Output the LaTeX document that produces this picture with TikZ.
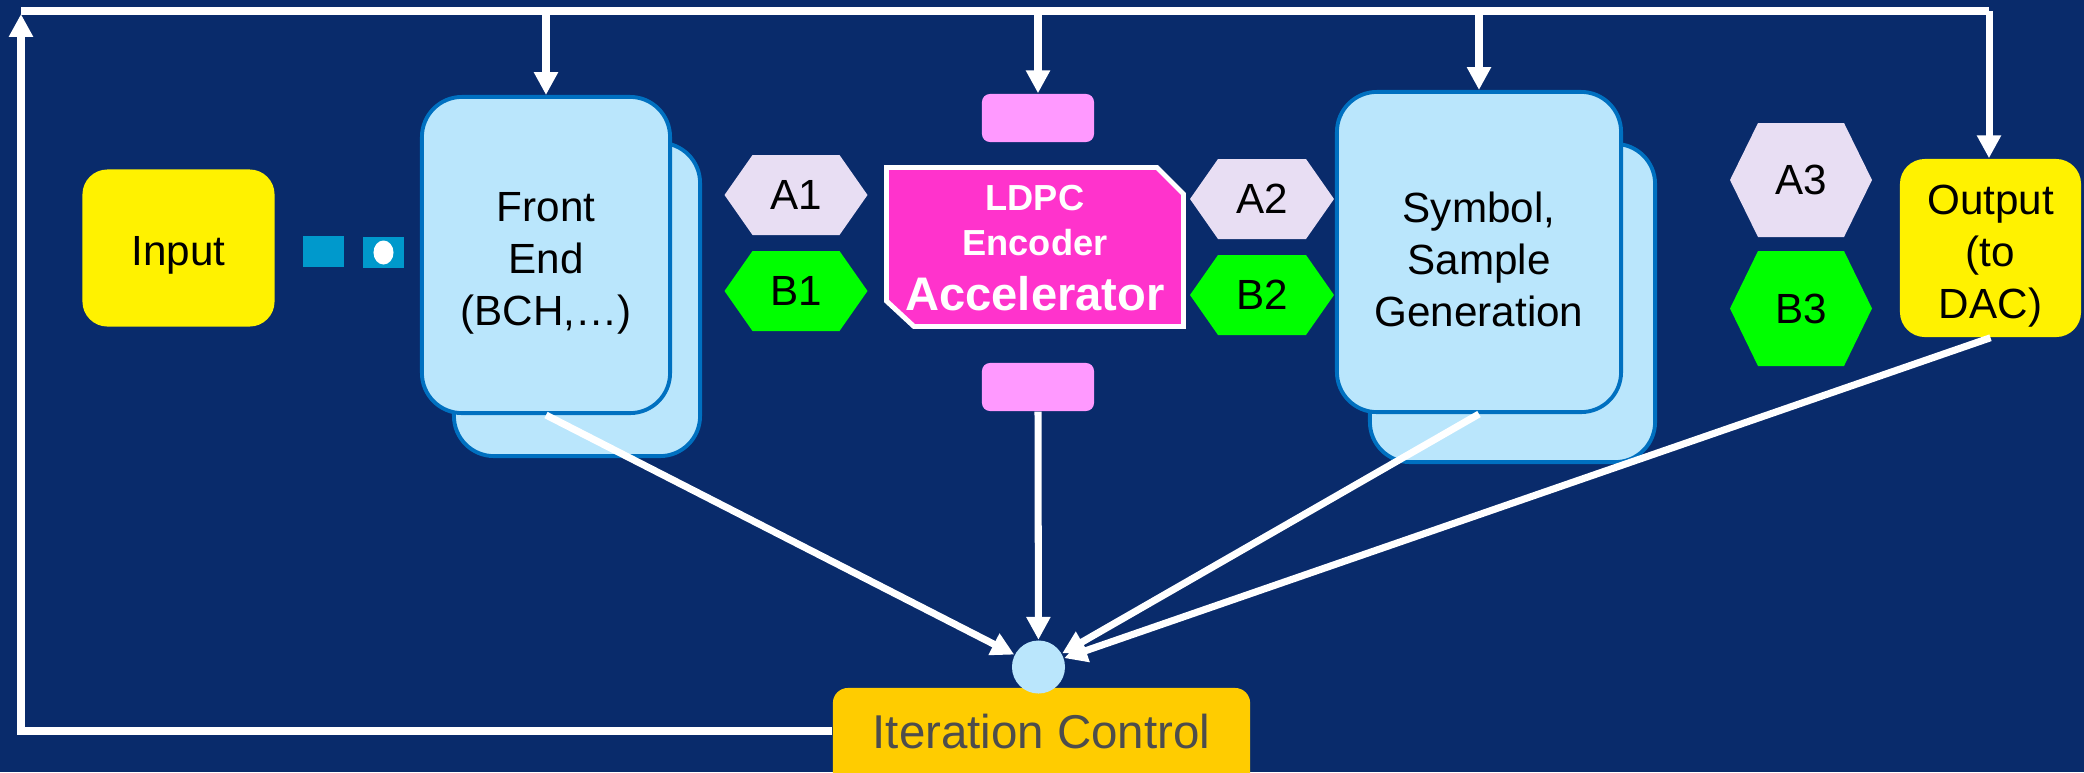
\documentclass[tikz,border=0pt]{standalone}
\usepackage{fontspec}
\setmainfont{Liberation Sans}
\usetikzlibrary{arrows.meta,calc}

\definecolor{navy}{RGB}{9,43,107}
\definecolor{paleblue}{RGB}{186,230,252}
\definecolor{edgeblue}{RGB}{0,112,192}
\definecolor{padpink}{RGB}{255,153,255}
\definecolor{accmagenta}{RGB}{255,51,204}
\definecolor{lavender}{RGB}{232,222,243}
\definecolor{brightgreen}{RGB}{0,255,0}
\definecolor{gold}{RGB}{255,204,0}
\definecolor{portblue}{RGB}{0,153,204}
\definecolor{greytext}{RGB}{77,77,77}

% hexagonal port: name, centre x, centre y, half width, half height, fill, label
\newcommand{\hexport}[7]{%
  \path[fill=#6] (#2-#4,#3) -- (#2-#4+28,#3-#5) -- (#2+#4-28,#3-#5)
    -- (#2+#4,#3) -- (#2+#4-28,#3+#5) -- (#2-#4+28,#3+#5) -- cycle;
  \node[boxtext] (#1) at (#2,#3) {#7};}

\begin{document}
\begin{tikzpicture}[x=0.01cm,y=-0.01cm,
  boxtext/.style={font=\fontsize{12}{14.8}\selectfont, text=black, align=center, inner sep=0pt},
  stage/.style={rectangle, rounded corners=0.4cm, draw=edgeblue, line width=1.1pt, fill=paleblue, inner sep=0pt},
  yellowbox/.style={rectangle, rounded corners=0.25cm, fill=yellow, inner sep=0pt},
  pad/.style={rectangle, rounded corners=0.08cm, fill=padpink, minimum width=1.12cm, minimum height=0.48cm},
  wire/.style={draw=white, line width=2pt},
  feed/.style={wire, -{Triangle[length=6.5pt,width=6.5pt]}},
  acctext/.style={text=white, font=\bfseries\fontsize{10.3}{12}\selectfont, anchor=base, inner sep=0pt}
]
% background
\fill[navy] (0,0) rectangle (2084,772);
\useasboundingbox (0,0) rectangle (2084,772);

% input and its ports
\node[yellowbox, minimum width=1.92cm, minimum height=1.57cm] (input) at (178.5,248) {};
\node[boxtext] (inputlbl) at (178.5,255) {Input};
\node[fill=portblue, minimum width=0.41cm, minimum height=0.31cm, inner sep=0pt] (sqa) at (323.5,251.5) {};
\node[fill=portblue, minimum width=0.41cm, minimum height=0.31cm, inner sep=0pt] (sqb) at (383.5,252.5) {};
\fill[white] (sqb.center) ellipse [x radius=0.1cm, y radius=0.12cm];

% front end (stacked)
\node[stage, minimum width=2.46cm, minimum height=3.13cm] (feback) at (577,299.5) {};
\node[stage, minimum width=2.48cm, minimum height=3.16cm] (fe) at (546,255) {};
\node[boxtext] (felbl) at (546,263) {Front\\End\\(BCH,…)};

% symbol generation (stacked)
\node[stage, minimum width=2.85cm, minimum height=3.18cm] (symback) at (1512.5,303) {};
\node[stage, minimum width=2.84cm, minimum height=3.20cm] (sym) at (1479,252) {};
\node[boxtext] (symlbl) at (1479,259) {Symbol,\\Sample\\Generation};

% output
\node[yellowbox, minimum width=1.81cm, minimum height=1.78cm] (out) at (1990.5,248) {};
\node[boxtext] (outlbl) at (1990.5,256) {Output\\(to\\DAC)};

% accelerator pads
\node[pad] (ptop) at (1038,118) {};
\node[pad] (pbot) at (1038,387) {};

% accelerator body
\filldraw[fill=accmagenta, draw=white, line width=1.4pt]
  (886.5,167.5) -- (1157,167.5) -- (1183.5,194) -- (1183.5,326.5)
  -- (914,326.5) -- (886.5,301) -- cycle;
\node[acctext] (ldpcA) at (1035,210) {LDPC};
\node[acctext] (ldpcB) at (1035,255) {Encoder};
\node[acctext, font=\bfseries\fontsize{13.4}{15}\selectfont] (ldpcC) at (1035,310) {Accelerator};

% ports
\hexport{a1}{796}{195}{71.5}{40}{lavender}{A1}
\hexport{b1}{796}{291}{71.5}{40}{brightgreen}{B1}
\hexport{a2}{1262}{199}{72}{40}{lavender}{A2}
\hexport{b2}{1262}{295}{72}{40}{brightgreen}{B2}
\hexport{a3}{1801}{180}{71}{57}{lavender}{A3}
\hexport{b3}{1801}{308.5}{71}{57.5}{brightgreen}{B3}

% iteration control and its hub
\node[rectangle, rounded corners=0.15cm, fill=gold, minimum width=4.17cm, minimum height=1.22cm] (iter) at (1041.5,749) {};
\node[text=greytext, font=\fontsize{13.5}{15}\selectfont, anchor=base, inner sep=0pt] (iterlbl) at (1041.5,748) {Iteration Control};
\node[circle, fill=paleblue, minimum size=0.53cm, inner sep=0pt] (hub) at (1038.5,667) {};

% feedback bus
\coordinate (busL) at (21,11);
\coordinate (busR) at (1989,11);
\draw[feed] (iter.west |- 0,731) -| (21,14);
\draw[wire] (busL) -- (busR);
\draw[feed] (busR) -- (busR |- out.north);
\draw[feed] (fe.north |- busL) -- (fe.north);
\draw[feed] (ptop.north |- busL) -- (ptop.north);
\draw[feed] (sym.north |- busL) -- (sym.north);

% status lines into the hub
\draw[feed] (fe.south) -- (hub);
\draw[feed] (pbot.south) -- (hub);
\draw[feed] (sym.south) -- (hub);
\draw[feed] (out.south) -- (hub);
\end{tikzpicture}
\end{document}
